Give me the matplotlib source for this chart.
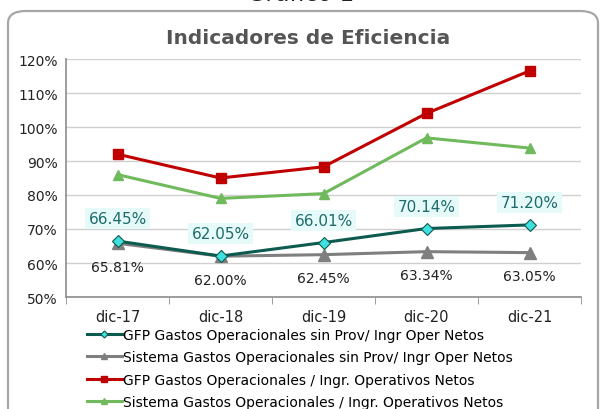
import matplotlib
matplotlib.use("Agg")
import matplotlib.pyplot as plt
from matplotlib.patches import FancyBboxPatch
from matplotlib.ticker import FixedLocator, PercentFormatter

categories = ["dic-17", "dic-18", "dic-19", "dic-20", "dic-21"]
gfp_sin_prov = [66.45, 62.05, 66.01, 70.14, 71.20]
sis_sin_prov = [65.81, 62.00, 62.45, 63.34, 63.05]
gfp_total = [92.0, 85.0, 88.3, 104.0, 116.5]
sis_total = [86.0, 79.0, 80.4, 96.8, 93.8]
labels = ["GFP Gastos Operacionales sin Prov/ Ingr Oper Netos",
          "Sistema Gastos Operacionales sin Prov/ Ingr Oper Netos",
          "GFP Gastos Operacionales / Ingr. Operativos Netos",
          "Sistema Gastos Operacionales / Ingr. Operativos Netos"]

plt.rcParams['font.family'] = ['DejaVu Sans']
fig = plt.figure(figsize=(6.01, 4.10), dpi=100)
fig.patch.set_facecolor("white")

# outer rounded frame
frame = FancyBboxPatch((8/601, -20/410), 590/601, (410-12+20)/410,
                       boxstyle="round,pad=0,rounding_size=0.03",
                       transform=fig.transFigure, fill=False,
                       edgecolor="#a6a6a6", linewidth=1.6)
fig.patches.append(frame)
fig.text(0.5, 1 - 6/410, "Gráfico 1", ha="center", va="bottom",
         fontsize=17, color="#222222")
fig.text(0.513, 1 - 38/410, "Indicadores de Eficiencia", ha="center",
         va="center", fontsize=14.5, fontweight="bold", color="#555555")

ax = fig.add_axes([66/601, 1 - 298/410, (581-66)/601, (298-60)/410])
x = list(range(len(categories)))

ax.plot(x, sis_total, color="#70b95c", lw=2.2, marker="^", ms=7,
        label=labels[3], zorder=3)
ax.plot(x, gfp_total, color="#c00000", lw=2.2, marker="s", ms=6.5,
        label=labels[2], zorder=3)
ax.plot(x, sis_sin_prov, color="#7f7f7f", lw=2.2, marker="^", ms=8,
        label=labels[1], zorder=3)
ax.plot(x, gfp_sin_prov, color="#0d5b4e", lw=2.2, marker="D", ms=6,
        markerfacecolor="#40e0e0", markeredgecolor="#0d5b4e", mew=0.8,
        label=labels[0], zorder=4)

for xi, v in zip(x, gfp_sin_prov):
    ax.annotate(f"{v:.2f}%", (xi, v), xytext=(0, 16), textcoords="offset points",
                ha="center", va="center", fontsize=11, color="#1d6b6b",
                bbox=dict(boxstyle="square,pad=0.2", fc="#e6fafa", ec="none"))
for xi, v in zip(x, sis_sin_prov):
    ax.annotate(f"{v:.2f}%", (xi, v), xytext=(0, -17), textcoords="offset points",
                ha="center", va="center", fontsize=10, color="#222222")

ax.set_xlim(-0.5, len(categories) - 0.5)
ax.set_ylim(50, 120)
ax.yaxis.set_major_locator(FixedLocator(range(50, 121, 10)))
ax.yaxis.set_major_formatter(PercentFormatter(decimals=0))
ax.set_xticks(x)
ax.set_xticklabels(categories)
ax.set_xticks([i - 0.5 for i in range(len(categories) + 1)], minor=True)
ax.tick_params(axis="x", which="major", length=0, pad=9, labelsize=10.5,
               labelcolor="#222222")
ax.tick_params(axis="x", which="minor", length=5, color="#8c8c8c", direction="out")
ax.tick_params(axis="y", length=0, labelsize=10, labelcolor="#222222", pad=6)
ax.grid(axis="y", color="#d0d0d0", lw=1)
ax.set_axisbelow(True)
for s in ["top", "right"]:
    ax.spines[s].set_visible(False)
for s in ["left", "bottom"]:
    ax.spines[s].set_color("#8c8c8c")
    ax.spines[s].set_linewidth(1.2)

handles, labs = ax.get_legend_handles_labels()
order = [3, 2, 1, 0]
leg = fig.legend([handles[i] for i in order], [labs[i] for i in order],
                 loc="upper left", bbox_to_anchor=(87/601, 1 - 329/410),
                 frameon=False, fontsize=10, handlelength=2.5,
                 handletextpad=0.1, labelspacing=0.6, borderaxespad=0,
                 borderpad=0, markerscale=0.6)

fig.savefig("out.png", dpi=100, facecolor="white")
